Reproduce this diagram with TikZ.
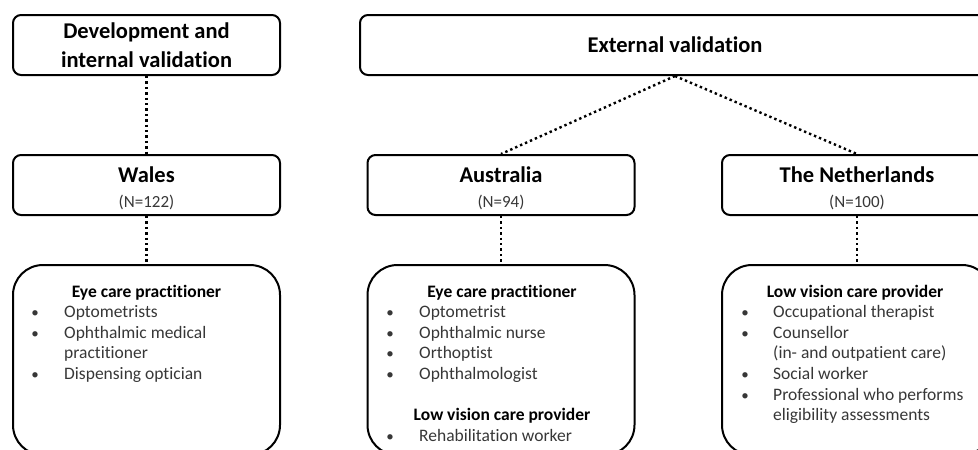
\documentclass[tikz,border=0pt]{standalone}
\usepackage{fontspec}
\setmainfont{Carlito}[Ligatures=NoCommon]
\definecolor{itemgray}{RGB}{55,55,55}
\begin{document}
\begin{tikzpicture}[x=1pt, y=-1pt,
  headbox/.style = {draw = black, line width = 2pt, rounded corners = 8pt, minimum width = 267pt, minimum height = 60pt, align = center, inner sep = 0pt, font = \fontsize{22.5}{29}\selectfont\bfseries},
  countrybox/.style = {headbox, text height = 46.5pt, font = \fontsize{22.5}{25}\selectfont\bfseries},
  listbox/.style = {draw = black, line width = 2pt, rounded corners = 30pt, minimum width = 267pt, minimum height = 190pt, inner sep = 0pt},
  dotline/.style = {line width = 2.4pt, dash pattern = on 2.4pt off 3pt},
  listhead/.style = {anchor = base, inner sep = 0pt, font = \fontsize{17.5}{20}\selectfont\bfseries},
  listitem/.style = {anchor = base west, inner sep = 0pt, text = itemgray, font = \fontsize{17.5}{20}\selectfont},
  bulletmark/.style = {anchor = base, inner sep = 0pt, text = itemgray, font = \fontsize{15}{20}\selectfont}]
\useasboundingbox (0,0) rectangle (978,450);
\clip (0,0) rectangle (978,450);
\pgfmathsetmacro\lh{20.6};
% top row
\node[headbox] (dev) at (146.5,45) {Development and\\internal validation};
\node[headbox, minimum width = 630pt] (ext) at (675,45) {External validation};
% countries
\node[countrybox] (wales) at (146.5,185) {Wales\\{\mdseries\color{itemgray}\fontsize{17}{25}\selectfont (N=122)}};
\node[countrybox] (aus) at (501,185) {Australia\\{\mdseries\color{itemgray}\fontsize{17}{25}\selectfont (N=94)}};
\node[countrybox, minimum width = 270pt] (nl) at (857,185) {The Netherlands\\{\mdseries\color{itemgray}\fontsize{17}{25}\selectfont (N=100)}};
% lists
\node[listbox] (walesList) at (146.5,360) {};
\node[listbox] (ausList) at (501,360) {};
\node[listbox, minimum width = 270pt] (nlList) at (857,360) {};
\draw[dotline] (dev.south) -- (wales.north);
\draw[dotline] (ext.south) -- (aus.north);
\draw[dotline] (ext.south) -- (nl.north);
\draw[dotline] (wales.south) -- (walesList.north);
\draw[dotline] (aus.south) -- (ausList.north);
\draw[dotline] (nl.south) -- (nlList.north);
% Wales
\node[listhead] (walesHead) at (146.5,297) {Eye care practitioner};
\foreach \k/\t in {1/Optometrists, 2/Ophthalmic medical, 3/practitioner, 4/Dispensing optician}
  \node[listitem] (walesItem\k) at (64,297+\lh*\k) {\t};
\foreach \k in {1,2,4} \node[bulletmark] (walesDot\k) at (35,297+\lh*\k) {\textbullet};
% Australia
\node[listhead] (ausHead) at (502,297) {Eye care practitioner};
\foreach \k/\t in {1/Optometrist, 2/Ophthalmic nurse, 3/Orthoptist, 4/Ophthalmologist, 7/Rehabilitation worker}
  \node[listitem] (ausItem\k) at (419,297+\lh*\k) {\t};
\foreach \k in {1,2,3,4,7} \node[bulletmark] (ausDot\k) at (390,297+\lh*\k) {\textbullet};
\node[listhead] (ausHeadLow) at (502,297+\lh*6) {Low vision care provider};
% The Netherlands
\node[listhead] (nlHead) at (855,297) {Low vision care provider};
\foreach \k/\t in {1/Occupational therapist, 2/Counsellor, 3/(in- and outpatient care), 4/Social worker, 5/Professional who performs, 6/eligibility assessments}
  \node[listitem] (nlItem\k) at (773,297+\lh*\k) {\t};
\foreach \k in {1,2,4,5} \node[bulletmark] (nlDot\k) at (745,297+\lh*\k) {\textbullet};
\end{tikzpicture}
\end{document}
